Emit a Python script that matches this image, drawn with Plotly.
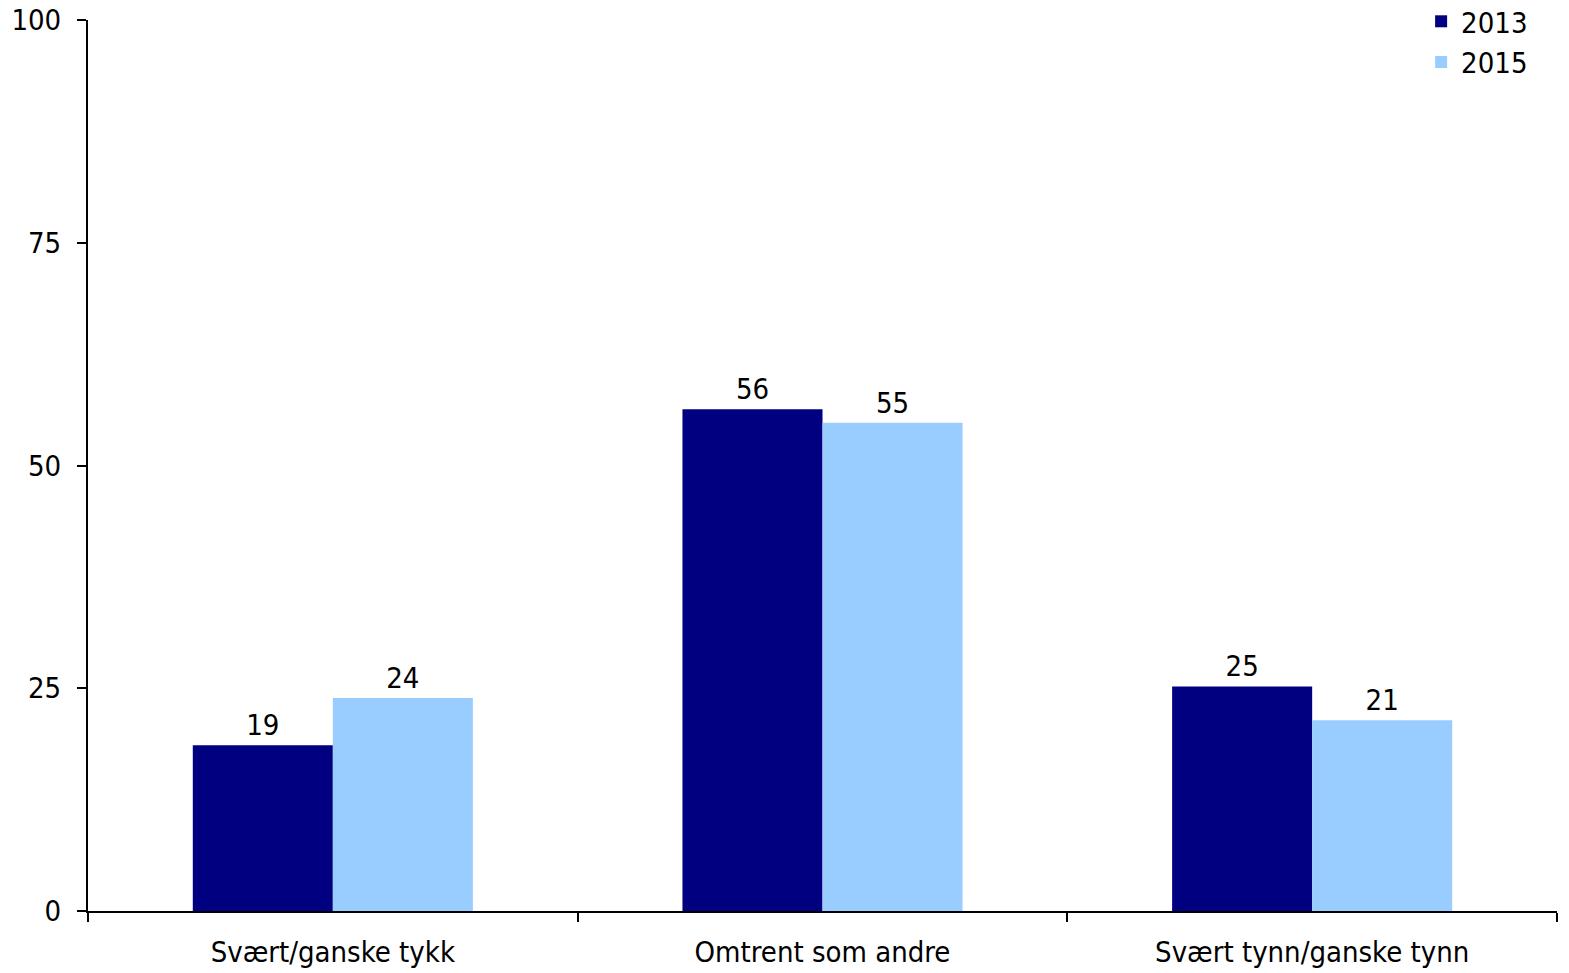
import plotly.graph_objects as go

categories = ["Svært/ganske tykk", "Omtrent som andre", "Svært tynn/ganske tynn"]
series_names = ["2013", "2015"]
values_2013 = [18.6, 56.3, 25.2]
values_2015 = [23.9, 54.8, 21.4]
colors = ["#000080", "#99CCFF"]
y_ticks = [0, 25, 50, 75, 100]

FONT = "'DejaVu Sans Condensed', 'DejaVu Sans', sans-serif"
FS = 29

fig = go.Figure()
for name, vals, col in zip(series_names, [values_2013, values_2015], colors):
    fig.add_trace(go.Bar(
        x=categories, y=vals, name=name, marker=dict(color=col, line=dict(width=0)),
        text=[f"{v:.0f}" for v in vals], textposition="outside",
        textfont=dict(family=FONT, size=FS, color="black"), cliponaxis=False,
    ))

fig.update_layout(
    width=1569, height=973,
    margin=dict(l=88, r=12, t=20, b=62, autoexpand=False),
    paper_bgcolor="white", plot_bgcolor="white",
    barmode="group", bargap=0.428, bargroupgap=0,
    font=dict(family=FONT, size=FS, color="black"),
    showlegend=True,
    legend=dict(x=0.9075, y=1.027, xanchor="left", yanchor="top",
                font=dict(family=FONT, size=FS, color="black"),
                bgcolor="rgba(0,0,0,0)", itemwidth=30, tracegroupgap=0),
    xaxis=dict(showline=True, linecolor="black", linewidth=2, ticks="outside",
               tickson="boundaries", ticklen=9, tickwidth=2, tickcolor="black",
               showgrid=False, zeroline=False, automargin=False, ticklabelstandoff=14),
    yaxis=dict(range=[0, 100], tickvals=y_ticks, showline=True, linecolor="black",
               linewidth=2, ticks="outside", ticklen=9, tickwidth=2, tickcolor="black",
               showgrid=False, zeroline=False, automargin=False, ticklabelstandoff=10,
               ticklabeloverflow="allow"),
)

fig.write_html("out.html", config={"displayModeBar": False},
               post_script="document.body.style.margin='0';")
